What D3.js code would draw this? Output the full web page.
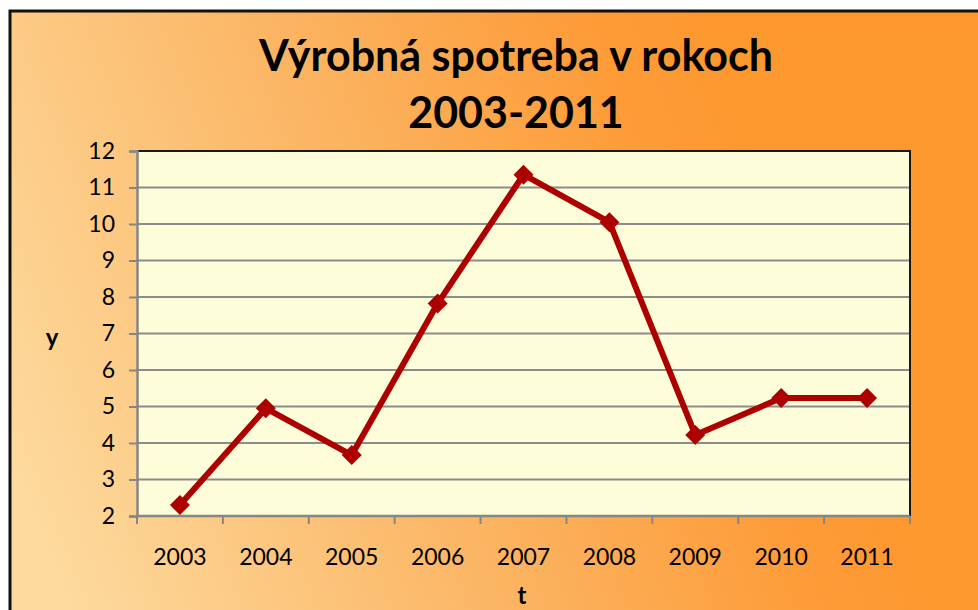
<!DOCTYPE html>
<html>
<head>
<meta charset="utf-8">
<script src="https://cdn.jsdelivr.net/npm/d3@7"></script>
<style>
  html, body { margin: 0; padding: 0; background: #fff; }
  svg { display: block; font-family: Lato, "Open Sans", sans-serif; }
</style>
</head>
<body>
<div id="chart"></div>
<script>
const years = ["2003", "2004", "2005", "2006", "2007", "2008", "2009", "2010", "2011"];
const values = [2.3, 4.95, 3.67, 7.82, 11.35, 10.05, 4.22, 5.23, 5.23];
const yTicks = [2, 3, 4, 5, 6, 7, 8, 9, 10, 11, 12];
const titleLines = ["Výrobná spotreba v rokoch", "2003-2011"];

const W = 978, H = 610;
const plot = {left: 137, right: 910, top: 151, bottom: 516};

const svg = d3.select("#chart")
  .append("svg")
  .attr("width", W)
  .attr("height", H);

const defs = svg.append("defs");
const grad = defs.append("linearGradient")
  .attr("id", "bg")
  .attr("gradientUnits", "userSpaceOnUse")
  .attr("x1", 60).attr("y1", 600)
  .attr("x2", 820).attr("y2", 300);
grad.append("stop").attr("offset", 0).attr("stop-color", "#fdda9e");
grad.append("stop").attr("offset", 0.5).attr("stop-color", "#fbb563");
grad.append("stop").attr("offset", 0.85).attr("stop-color", "#fd9c39");
grad.append("stop").attr("offset", 1).attr("stop-color", "#fd982f");

// chart background + outer frame
svg.append("rect")
  .attr("x", 10).attr("y", 11)
  .attr("width", W + 20).attr("height", H + 20)
  .attr("fill", "url(#bg)")
  .attr("stroke", "#111")
  .attr("stroke-width", 3);

const x = d3.scaleBand().domain(years).range([plot.left, plot.right]).padding(0);
const y = d3.scaleLinear().domain([2, 12]).range([plot.bottom, plot.top]);

// plot area
svg.append("rect")
  .attr("x", plot.left).attr("y", plot.top)
  .attr("width", plot.right - plot.left)
  .attr("height", plot.bottom - plot.top)
  .attr("fill", "#fefdd9");

// gridlines
svg.append("g")
  .selectAll("line")
  .data(yTicks.filter(d => d > 2 && d < 12))
  .join("line")
  .attr("x1", plot.left).attr("x2", plot.right)
  .attr("y1", d => y(d)).attr("y2", d => y(d))
  .attr("stroke", "#8c8c8c")
  .attr("stroke-width", 2);

// top and right border of plot area
svg.append("path")
  .attr("d", `M${plot.left},${plot.top}H${plot.right}V${plot.bottom}`)
  .attr("fill", "none")
  .attr("stroke", "#1a1a1a")
  .attr("stroke-width", 2);

// y axis
const yAxis = svg.append("g")
  .attr("transform", `translate(${plot.left},0)`)
  .call(d3.axisLeft(y).tickValues(yTicks).tickSize(8).tickPadding(14).tickFormat(d3.format("d")));
yAxis.select(".domain").attr("stroke", "#868686").attr("stroke-width", 2.5);
yAxis.selectAll(".tick line").attr("stroke", "#868686").attr("stroke-width", 2);
yAxis.selectAll(".tick text")
  .attr("font-size", 23)
  .attr("font-family", "Lato, sans-serif")
  .attr("fill", "#000");

// x axis: ticks between categories
const xAxis = svg.append("g")
  .attr("transform", `translate(0,${plot.bottom})`)
  .call(d3.axisBottom(x).tickSize(0).tickPadding(33));
xAxis.select(".domain").remove();
xAxis.selectAll(".tick text")
  .attr("font-size", 23)
  .attr("font-family", "Lato, sans-serif")
  .attr("fill", "#000");

const bounds = years.map(d => x(d)).concat([plot.right]);
svg.append("g")
  .selectAll("line")
  .data(bounds)
  .join("line")
  .attr("x1", d => d).attr("x2", d => d)
  .attr("y1", plot.bottom).attr("y2", plot.bottom + 8)
  .attr("stroke", "#868686")
  .attr("stroke-width", 2);
svg.append("line")
  .attr("x1", plot.left - 1).attr("x2", plot.right)
  .attr("y1", plot.bottom).attr("y2", plot.bottom)
  .attr("stroke", "#868686")
  .attr("stroke-width", 2.5);

// data line
const cx = d => x(d) + x.bandwidth() / 2;
const pts = years.map((d, i) => [cx(d), y(values[i])]);

svg.append("path")
  .datum(pts)
  .attr("d", d3.line())
  .attr("fill", "none")
  .attr("stroke", "#ad0000")
  .attr("stroke-width", 6)
  .attr("stroke-linejoin", "round");

svg.append("g")
  .selectAll("path")
  .data(pts)
  .join("path")
  .attr("d", d3.symbol(d3.symbolSquare, 200)())
  .attr("transform", d => `translate(${d[0]},${d[1]}) rotate(45)`)
  .attr("fill", "#ad0000");

// title
svg.append("g")
  .selectAll("text")
  .data(titleLines)
  .join("text")
  .attr("x", 516)
  .attr("y", (d, i) => 71 + i * 57)
  .attr("text-anchor", "middle")
  .attr("font-size", 43)
  .attr("font-weight", "bold")
  .attr("fill", "#000")
  .text(d => d);

// axis titles
svg.append("text")
  .attr("x", 52).attr("y", 346)
  .attr("text-anchor", "middle")
  .attr("font-size", 24)
  .attr("font-weight", "bold")
  .text("y");

svg.append("text")
  .attr("x", 522).attr("y", 604)
  .attr("text-anchor", "middle")
  .attr("font-size", 24)
  .attr("font-weight", "bold")
  .text("t");
</script>
</body>
</html>
